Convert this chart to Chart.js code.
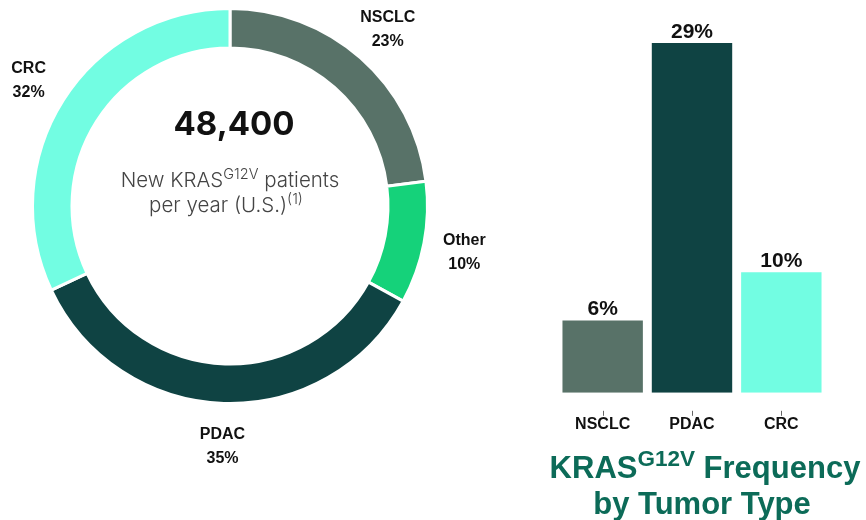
<!DOCTYPE html>
<html>
<head>
<meta charset="utf-8">
<script src="https://cdn.jsdelivr.net/npm/chart.js@4.4.1/dist/chart.umd.min.js"></script>
<style>
  html, body { margin: 0; padding: 0; background: #ffffff; }
  body { width: 866px; height: 520px; position: relative; overflow: hidden; }
  #donutWrap { position: absolute; left: 0; top: 0; width: 540px; height: 520px; }
  #barWrap { position: absolute; left: 540px; top: 0; width: 326px; height: 520px; }
</style>
</head>
<body>
<div id="donutWrap"><canvas id="donut"></canvas></div>
<div id="barWrap"><canvas id="bars"></canvas></div>
<script>
// ---- Data ----
const donutCategories = ['NSCLC', 'Other', 'PDAC', 'CRC'];
const donutShares = [23, 10, 35, 32];
const centerValue = '48,400';

const barCategories = ['NSCLC', 'PDAC', 'CRC'];
const barFrequencies = [6, 29, 10];

// ---- Styles ----
const donutColors = ['#587268', '#15d27a', '#0f4343', '#72fde2'];
const barColors = ['#587268', '#0f4343', '#72fde2'];
const labelFont = '"Liberation Sans", Arial, sans-serif';
const centerFont = 'Inter, "Liberation Sans", sans-serif';

function drawRich(ctx, parts, cx, y, size, supSize, weight, family, color) {
  ctx.save();
  ctx.fillStyle = color;
  ctx.textBaseline = 'alphabetic';
  ctx.textAlign = 'left';
  let total = 0;
  const widths = parts.map(p => {
    ctx.font = weight + ' ' + (p.sup ? supSize : size) + 'px ' + family;
    const w = ctx.measureText(p.t).width;
    total += w;
    return w;
  });
  let x = cx - total / 2;
  parts.forEach((p, i) => {
    ctx.font = weight + ' ' + (p.sup ? supSize : size) + 'px ' + family;
    ctx.fillText(p.t, x, p.sup ? y - size * 0.38 : y);
    x += widths[i];
  });
  ctx.restore();
}

const donutLabelsPlugin = {
  id: 'donutLabels',
  afterDatasetsDraw(chart) {
    const ctx = chart.ctx;
    const meta = chart.getDatasetMeta(0);
    ctx.save();
    ctx.fillStyle = '#111111';
    ctx.textAlign = 'center';
    ctx.textBaseline = 'middle';
    ctx.font = 'bold 16px ' + labelFont;
    meta.data.forEach((arc, i) => {
      const p = arc.getProps(['x', 'y', 'startAngle', 'endAngle', 'outerRadius'], true);
      const mid = (p.startAngle + p.endAngle) / 2;
      const r = p.outerRadius + 41;
      const lx = p.x + Math.cos(mid) * r;
      const ly = p.y + Math.sin(mid) * r + 2;
      ctx.fillText(donutCategories[i], lx, ly - 12);
      ctx.fillText(donutShares[i] + '%', lx, ly + 12);
    });
    // centre text
    const cx = meta.data[0].x, cy = meta.data[0].y;
    ctx.fillStyle = '#111111';
    ctx.font = '700 33px ' + centerFont;
    ctx.fillText(centerValue, cx + 4, cy - 81);
    ctx.restore();
    drawRich(ctx, [{t: 'New KRAS'}, {t: 'G12V', sup: true}, {t: ' patients'}],
      cx, cy - 19, 20.5, 14.5, '300', centerFont, '#444444');
    drawRich(ctx, [{t: 'per year (U.S.)'}, {t: '(1)', sup: true}],
      cx - 4, cy + 6, 20.5, 14.5, '300', centerFont, '#444444');
  }
};

new Chart(document.getElementById('donut'), {
  type: 'doughnut',
  data: {
    labels: donutCategories,
    datasets: [{
      data: donutShares,
      backgroundColor: donutColors,
      borderColor: '#ffffff',
      borderWidth: 3,
      hoverOffset: 0
    }]
  },
  options: {
    responsive: true,
    maintainAspectRatio: false,
    animation: false,
    cutout: '80%',
    layout: { padding: { left: 31, top: 7, right: 111, bottom: 115 } },
    plugins: { legend: { display: false }, tooltip: { enabled: false } }
  },
  plugins: [donutLabelsPlugin]
});

const barExtrasPlugin = {
  id: 'barExtras',
  afterDatasetsDraw(chart) {
    const ctx = chart.ctx;
    const meta = chart.getDatasetMeta(0);
    ctx.save();
    ctx.fillStyle = '#111111';
    ctx.textAlign = 'center';
    ctx.textBaseline = 'middle';
    ctx.font = 'bold 21px ' + labelFont;
    meta.data.forEach((bar, i) => {
      ctx.fillText(barFrequencies[i] + '%', bar.x, bar.y - 11);
    });
    // small tick marks above category labels
    const xs = chart.scales.x;
    const bottom = chart.chartArea.bottom;
    ctx.strokeStyle = '#666666';
    ctx.lineWidth = 1;
    barCategories.forEach((c, i) => {
      const x = Math.round(xs.getPixelForTick(i)) + 0.5;
      ctx.beginPath();
      ctx.moveTo(x, bottom + 18);
      ctx.lineTo(x, bottom + 23);
      ctx.stroke();
    });
    ctx.restore();
    // title
    const cx = (chart.chartArea.left + chart.chartArea.right) / 2 + 13;
    drawRich(ctx, [{t: 'KRAS'}, {t: 'G12V', sup: true}, {t: ' Frequency'}],
      cx, bottom + 85, 31, 22.5, 'bold', labelFont, '#0c6b58');
    drawRich(ctx, [{t: 'by Tumor Type'}],
      cx - 3, bottom + 121, 31, 22.5, 'bold', labelFont, '#0c6b58');
  }
};

new Chart(document.getElementById('bars'), {
  type: 'bar',
  data: {
    labels: barCategories,
    datasets: [{
      data: barFrequencies,
      backgroundColor: barColors,
      borderWidth: 0,
      barPercentage: 0.9,
      categoryPercentage: 1.0
    }]
  },
  options: {
    responsive: true,
    maintainAspectRatio: false,
    animation: false,
    layout: { padding: { left: 18, right: 40, top: 43, bottom: 64 } },
    scales: {
      x: {
        grid: { display: false, drawTicks: false },
        border: { display: false },
        ticks: {
          padding: 22,
          color: '#111111',
          font: { family: labelFont, size: 16, weight: 'bold' }
        }
      },
      y: {
        display: false,
        min: 0,
        max: 29
      }
    },
    plugins: { legend: { display: false }, tooltip: { enabled: false } }
  },
  plugins: [barExtrasPlugin]
});
</script>
</body>
</html>
